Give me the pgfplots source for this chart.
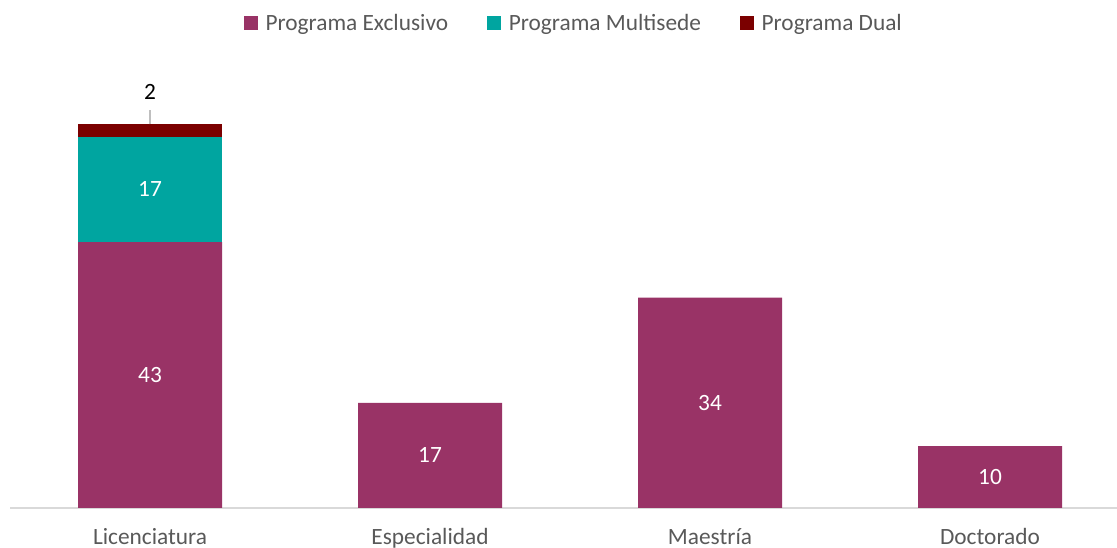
\documentclass[border=0pt]{standalone}
\usepackage{pgfplots}
\usepackage{pgfplotstable}
\pgfplotsset{compat=1.18}
\usepackage{fontspec}
\setmainfont{Carlito}

\definecolor{exclusivo}{RGB}{153,51,102}
\definecolor{multisede}{RGB}{0,165,160}
\definecolor{dual}{RGB}{123,0,0}
\definecolor{gristexto}{RGB}{89,89,89}
\definecolor{grislinea}{RGB}{217,217,217}

\pgfplotstableread{
x excl multi dual
0 43 17 2
1 17 0 0
2 34 0 0
3 10 0 0
}\datos

\newcommand{\etiq}{\pgfmathfloatifflags{\pgfplotspointmeta}{0}{}{\pgfmathprintnumber{\pgfplotspointmeta}}}
\newcommand{\fuente}{\fontsize{17.5}{21}\selectfont}

\begin{document}
\begin{tikzpicture}
\begin{axis}[
    ybar stacked,
    every axis plot post/.append style={
        legend image code/.code={\fill[##1] (0pt,-5.25pt) rectangle (10.5pt,5.25pt);}
    },
    width=830.25pt, height=324.75pt,
    scale only axis,
    bar width=108pt,
    xmin=-0.5, xmax=3.4536,
    ymin=0, ymax=70,
    enlargelimits=false,
    clip=false,
    axis x line=bottom,
    axis y line=none,
    x axis line style={-, draw=grislinea, line width=0.9pt},
    xtick={0,1,2,3},
    xticklabels={Licenciatura,Especialidad,Maestría,Doctorado},
    major tick length=0pt,
    xticklabel style={font=\fuente, text=gristexto, anchor=base, yshift=-27.75pt},
    /pgf/number format/assume math mode=true,
    legend style={
        at={(rel axis cs:0.5095,1.1201)}, anchor=center,
        draw=none, fill=none,
        legend columns=3,
        font=\fuente,
        text=gristexto,
        inner xsep=0pt,
        /tikz/every odd column/.append style={column sep=4pt},
        /tikz/every even column/.append style={column sep=27pt},
    },
]
\addplot[fill=exclusivo, draw=none, point meta=explicit,
    nodes near coords=\etiq,
    nodes near coords style={anchor=center, text=white, font=\fuente}]
    table[x=x, y=excl, meta=excl] {\datos};
\addplot[fill=multisede, draw=none, point meta=explicit,
    nodes near coords=\etiq,
    nodes near coords style={anchor=center, text=white, font=\fuente}]
    table[x=x, y=multi, meta=multi] {\datos};
\addplot[fill=dual, draw=none, point meta=explicit,
    nodes near coords={\vbox{\offinterlineskip\hbox to 0pt{\hss\etiq\hss}\kern7.5pt\hbox to 0pt{\hss\color{black!25}\vrule width 0.8pt height 11pt depth 0pt\hss}}},
    nodes near coords style={anchor=south, inner sep=0pt, outer sep=0pt, yshift=4.64pt, text=black, font=\fuente}]
    table[x=x, y=dual, meta=dual] {\datos};
\legend{Programa Exclusivo, Programa Multisede, Programa Dual}
\coordinate (bbA) at (rel axis cs:-0.00903,-0.09238);
\coordinate (bbB) at (rel axis cs:1,1.17321);
\end{axis}
\pgfresetboundingbox
\useasboundingbox (bbA) rectangle (bbB);
\end{tikzpicture}
\end{document}
